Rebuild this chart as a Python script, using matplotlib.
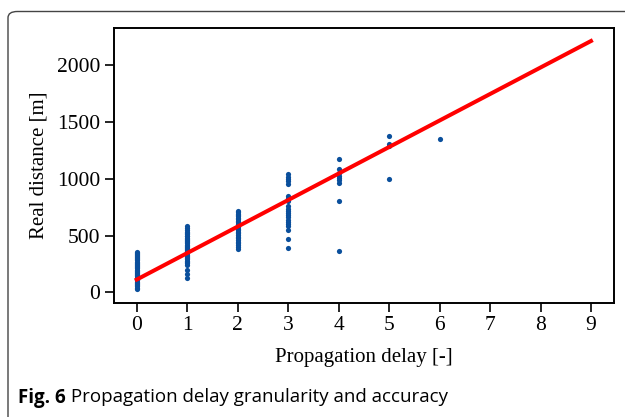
import matplotlib
matplotlib.use("Agg")
import matplotlib.pyplot as plt
from matplotlib.patches import FancyBboxPatch

# ---- data ----
delay_0 = [25, 40, 55, 62, 75, 85, 95, 105, 112, 122, 130, 140, 150, 158, 170, 180, 190,
           200, 212, 220, 232, 240, 252, 262, 270, 282, 290, 300, 312, 320, 330, 340, 350, 355]
delay_1 = [125, 165, 195, 240, 255, 268, 280, 292, 300, 312, 322, 332, 345, 352, 362, 372,
           382, 392, 400, 412, 420, 432, 442, 450, 460, 470, 482, 492, 500, 512, 522, 535,
           548, 565, 588]
delay_2 = [385, 400, 415, 430, 445, 460, 475, 490, 505, 520, 532, 545, 560, 575, 590, 602,
           615, 630, 642, 655, 668, 680, 692, 705, 718]
delay_3 = [390, 468, 548, 580, 600, 620, 640, 660, 680, 700, 718, 738, 758, 800, 830, 850,
           955, 980, 1000, 1020, 1040]
delay_4 = [363, 800, 960, 985, 1005, 1025, 1047, 1088, 1170]
delay_5 = [1000, 1290, 1310, 1378]
delay_6 = [1350]

fit_x = [0, 9]
fit_y = [112, 2214]

x_ticks = [0, 1, 2, 3, 4, 5, 6, 7, 8, 9]
y_ticks = [0, 500, 1000, 1500, 2000]

x_label = "Propagation delay [-]"
y_label = "Real distance [m]"
caption_bold = "Fig. 6"
caption_text = " Propagation delay granularity and accuracy"

groups = [delay_0, delay_1, delay_2, delay_3, delay_4, delay_5, delay_6]

W, H = 625, 417
fig = plt.figure(figsize=(W / 100, H / 100), dpi=100)
ax = fig.add_axes([114 / W, 1 - 302.5 / H, (613.7 - 114) / W, (302.5 - 28.3) / H])

dot_color = "#0a4f9c"
for d, vals in enumerate(groups):
    ax.scatter([d] * len(vals), vals, s=14, color=dot_color, linewidths=0, zorder=2)

ax.plot(fit_x, fit_y, color="red", linewidth=2.9, zorder=3, solid_capstyle="projecting")

ax.set_xlim(-0.45, 9.45)
ax.set_ylim(-90, 2326)
ax.set_xticks(x_ticks)
ax.set_yticks(y_ticks)

serif = "Liberation Serif"
for lab in ax.get_xticklabels() + ax.get_yticklabels():
    lab.set_fontfamily(serif)
    lab.set_fontsize(15.5)
ax.tick_params(length=6.5, width=1.2, color="black", pad=3.5)
for sp in ax.spines.values():
    sp.set_linewidth(1.4)

ax.set_xlabel(x_label, fontfamily=serif, fontsize=15, labelpad=9)
ax.set_ylabel(y_label, fontfamily=serif, fontsize=15, labelpad=6)

# figure frame (rounded box extending beyond right/bottom edges)
frame = FancyBboxPatch((8 / W, -0.2), 1.2, 1 - 11.5 / H + 0.2,
                       boxstyle="round,pad=0,rounding_size=0.015",
                       transform=fig.transFigure, fill=False,
                       edgecolor="#444444", linewidth=1.0, clip_on=False)
fig.add_artist(frame)

t1 = fig.text(18 / W, 14.5 / H, caption_bold, fontfamily="Open Sans", fontweight="bold",
              fontsize=13.5, va="baseline", ha="left")
fig.canvas.draw()
bb = t1.get_window_extent()
fig.text(bb.x1 / W, 14.5 / H, caption_text, fontfamily="Open Sans", fontsize=13.5,
         va="baseline", ha="left")

fig.savefig("out.png", dpi=100)
